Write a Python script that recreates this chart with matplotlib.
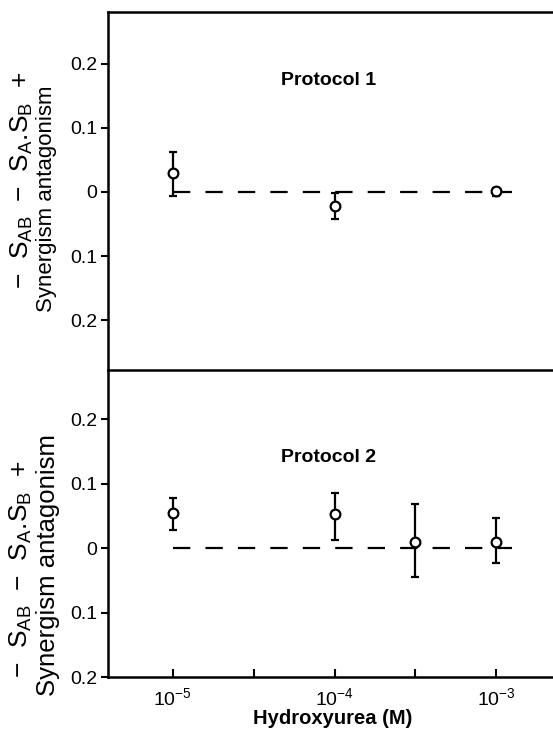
import numpy as np
import matplotlib
matplotlib.use("Agg")
import matplotlib.pyplot as plt

plt.rcParams['font.family'] = ['Liberation Sans', 'DejaVu Sans']
plt.rcParams['mathtext.default'] = 'regular'

# Protocol 1 (top)
x1 = [1e-5, 1e-4, 1e-3]
y1 = [0.030, -0.022, 0.001]
err1_lo = [0.037, 0.021, 0.007]
err1_hi = [0.033, 0.021, 0.005]

# Protocol 2 (bottom)
x2 = [1e-5, 1e-4, 3.16e-4, 1e-3]
y2 = [0.054, 0.052, 0.009, 0.009]
err2_lo = [0.026, 0.040, 0.054, 0.033]
err2_hi = [0.023, 0.033, 0.059, 0.038]

zero_x = [1e-5, 1.25e-3]
ytick_vals = [0.2, 0.1, 0, -0.1, -0.2]
ytick_labels = ['0.2', '0.1', '0', '0.1', '0.2']
xtick_major = [1e-5, 1e-4, 1e-3]
xtick_major_labels = ['$10^{-5}$', '$10^{-4}$', '$10^{-3}$']
xtick_minor = [10**-4.5, 10**-3.5]

fig = plt.figure(figsize=(5.53, 7.31), dpi=100)
ax1 = fig.add_axes([108/553, 1-370/731, 1-108/553, 358/731])
ax2 = fig.add_axes([108/553, 1-677/731, 1-108/553, 307/731])

def style(ax, ylim):
    ax.patch.set_visible(False)
    ax.set_xscale('log')
    ax.set_xlim(10**-5.40, 10**-2.65)
    ax.set_ylim(*ylim)
    ax.spines['right'].set_visible(False)
    for s in ax.spines.values():
        s.set_linewidth(1.8)
    ax.set_yticks(ytick_vals)
    ax.set_yticklabels(ytick_labels)
    ax.tick_params(axis='y', direction='out', length=5, width=1.5, pad=2.5, labelsize=14)

def draw(ax, x, y, lo, hi):
    ax.plot(zero_x, [0, 0], color='black', lw=1.6, dashes=(7.8, 6.8), zorder=1)
    ax.errorbar(x, y, yerr=[lo, hi], fmt='o', color='black', ecolor='black',
                elinewidth=1.6, capsize=3, capthick=1.6, ms=7,
                mfc='white', mec='black', mew=1.6, zorder=3)

style(ax1, (-0.278, 0.281))
draw(ax1, x1, y1, err1_lo, err1_hi)
ax1.set_xticks([])
ax1.set_xticks([], minor=True)
ax1.text(0.495, 0.81, 'Protocol 1', transform=ax1.transAxes, ha='center',
         va='center', fontsize=14, fontweight='bold')

style(ax2, (-0.2, 0.276))
ax2.spines['top'].set_visible(False)
draw(ax2, x2, y2, err2_lo, err2_hi)
ax2.set_xticks(xtick_major)
ax2.set_xticklabels(xtick_major_labels)
ax2.set_xticks(xtick_minor, minor=True)
ax2.set_xticklabels([], minor=True)
ax2.tick_params(axis='x', which='both', direction='in', length=6, width=1.5,
                pad=7, labelsize=14)
ax2.text(0.495, 0.715, 'Protocol 2', transform=ax2.transAxes, ha='center',
         va='center', fontsize=14, fontweight='bold')
fig.text(333/553, 1-719/731, 'Hydroxyurea (M)', ha='center', va='center',
         fontsize=14.5, fontweight='bold')

# two-line y labels
lab1 = '$-$  S$_{AB}$  $-$  S$_{A}$.S$_{B}$  +'
lab2 = 'Synergism antagonism'
fig.text(22/553, 1-180/731, lab1, rotation=90, ha='center', va='center', fontsize=19)
fig.text(47/553, 1-199/731, lab2, rotation=90, ha='center', va='center', fontsize=16)
fig.text(21/553, 1-569/731, lab1, rotation=90, ha='center', va='center', fontsize=19)
fig.text(48/553, 1-565/731, lab2, rotation=90, ha='center', va='center', fontsize=18.5)

fig.savefig('out.png', dpi=100)
